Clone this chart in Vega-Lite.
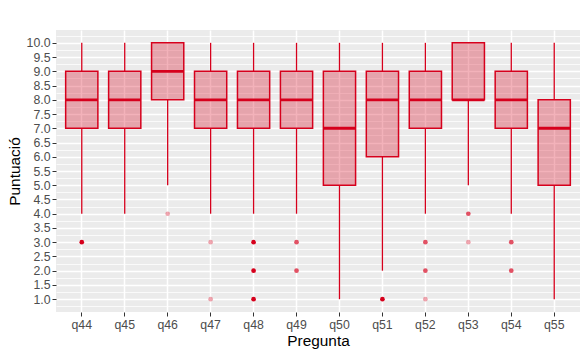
{
  "$schema": "https://vega.github.io/schema/vega-lite/v6.json",
  "width": 524,
  "height": 282,
  "autosize": "none",
  "padding": {"left": 56, "top": 30, "right": 8, "bottom": 47},
  "background": "white",
  "config": {
    "view": {"fill": "#EBEBEB", "stroke": null},
    "font": "Liberation Sans",
    "axis": {
      "domain": false,
      "labelFont": "Liberation Sans",
      "labelFontSize": 12.3,
      "labelColor": "#4D4D4D",
      "tickColor": "#333333",
      "tickSize": 4,
      "tickWidth": 1,
      "labelPadding": 2,
      "titleFont": "Liberation Sans",
      "titleFontSize": 15.4,
      "titleFontWeight": "normal",
      "titleColor": "#000000",
      "gridColor": "#FFFFFF",
      "gridOpacity": 1
    }
  },
  "datasets": {
    "boxes": [
      {"q": "q44", "lower": 4, "q1": 7, "median": 8, "q3": 9, "upper": 10},
      {"q": "q45", "lower": 4, "q1": 7, "median": 8, "q3": 9, "upper": 10},
      {"q": "q46", "lower": 5, "q1": 8, "median": 9, "q3": 10, "upper": 10},
      {"q": "q47", "lower": 4, "q1": 7, "median": 8, "q3": 9, "upper": 10},
      {"q": "q48", "lower": 4, "q1": 7, "median": 8, "q3": 9, "upper": 10},
      {"q": "q49", "lower": 4, "q1": 7, "median": 8, "q3": 9, "upper": 10},
      {"q": "q50", "lower": 1, "q1": 5, "median": 7, "q3": 9, "upper": 10},
      {"q": "q51", "lower": 2, "q1": 6, "median": 8, "q3": 9, "upper": 10},
      {"q": "q52", "lower": 4, "q1": 7, "median": 8, "q3": 9, "upper": 10},
      {"q": "q53", "lower": 5, "q1": 8, "median": 8, "q3": 10, "upper": 10},
      {"q": "q54", "lower": 4, "q1": 7, "median": 8, "q3": 9, "upper": 10},
      {"q": "q55", "lower": 1, "q1": 5, "median": 7, "q3": 8, "upper": 10}
    ],
    "outliers": [
      {"q": "q44", "value": 3, "n": 10},
      {"q": "q46", "value": 4, "n": 1},
      {"q": "q47", "value": 3, "n": 1},
      {"q": "q47", "value": 1, "n": 1},
      {"q": "q48", "value": 3, "n": 10},
      {"q": "q48", "value": 2, "n": 10},
      {"q": "q48", "value": 1, "n": 10},
      {"q": "q49", "value": 3, "n": 3},
      {"q": "q49", "value": 2, "n": 3},
      {"q": "q51", "value": 1, "n": 10},
      {"q": "q52", "value": 3, "n": 3},
      {"q": "q52", "value": 2, "n": 3},
      {"q": "q52", "value": 1, "n": 1},
      {"q": "q53", "value": 4, "n": 3},
      {"q": "q53", "value": 3, "n": 1},
      {"q": "q54", "value": 3, "n": 3},
      {"q": "q54", "value": 2, "n": 3}
    ]
  },
  "resolve": {"axis": {"y": "independent"}},
  "layer": [
    {
      "data": {"name": "boxes"},
      "mark": {"type": "rule", "color": "#D6001C", "strokeWidth": 1.3},
      "encoding": {
        "x": {
          "field": "q", "type": "nominal",
          "scale": {"domain": ["q44","q45","q46","q47","q48","q49","q50","q51","q52","q53","q54","q55"], "paddingInner": 0, "paddingOuter": 0.1},
          "axis": {"title": "Pregunta", "labelAngle": 0, "grid": true, "gridWidth": 1.5, "bandPosition": 0.5, "titlePadding": 3}
        },
        "y": {
          "field": "lower", "type": "quantitative",
          "scale": {"domain": [0.55, 10.45], "nice": false, "zero": false},
          "axis": {"orient": "left", "values": [0.75,1.25,1.75,2.25,2.75,3.25,3.75,4.25,4.75,5.25,5.75,6.25,6.75,7.25,7.75,8.25,8.75,9.25,9.75,10.25], "grid": true, "gridWidth": 0.75, "ticks": false, "labels": false, "title": null}
        },
        "y2": {"field": "q1"}
      }
    },
    {
      "data": {"name": "boxes"},
      "mark": {"type": "rule", "color": "#D6001C", "strokeWidth": 1.3},
      "encoding": {
        "x": {"field": "q", "type": "nominal"},
        "y": {
          "field": "q3", "type": "quantitative",
          "axis": {"orient": "left", "values": [1,1.5,2,2.5,3,3.5,4,4.5,5,5.5,6,6.5,7,7.5,8,8.5,9,9.5,10], "format": ".1f", "grid": true, "gridWidth": 1.5, "title": "Puntuació"}
        },
        "y2": {"field": "upper"}
      }
    },
    {
      "data": {"name": "boxes"},
      "mark": {"type": "bar", "width": {"band": 0.75}, "fill": "#D6001C", "fillOpacity": 0.3, "stroke": "#D6001C", "strokeWidth": 1.5},
      "encoding": {
        "x": {"field": "q", "type": "nominal"},
        "y": {"field": "q1", "type": "quantitative", "axis": null},
        "y2": {"field": "q3"}
      }
    },
    {
      "data": {"name": "boxes"},
      "mark": {"type": "bar", "width": {"band": 0.75}, "fill": "#D6001C", "fillOpacity": 0, "stroke": "#D6001C", "strokeWidth": 2.8},
      "encoding": {
        "x": {"field": "q", "type": "nominal"},
        "y": {"field": "median", "type": "quantitative", "axis": null},
        "y2": {"field": "median"}
      }
    },
    {
      "data": {"name": "outliers"},
      "mark": {"type": "circle", "color": "#D6001C", "size": 22},
      "encoding": {
        "x": {"field": "q", "type": "nominal"},
        "y": {"field": "value", "type": "quantitative", "axis": null},
        "opacity": {"field": "n", "type": "quantitative", "scale": {"domain": [1, 3, 10], "range": [0.35, 0.68, 1]}, "legend": null}
      }
    }
  ]
}
